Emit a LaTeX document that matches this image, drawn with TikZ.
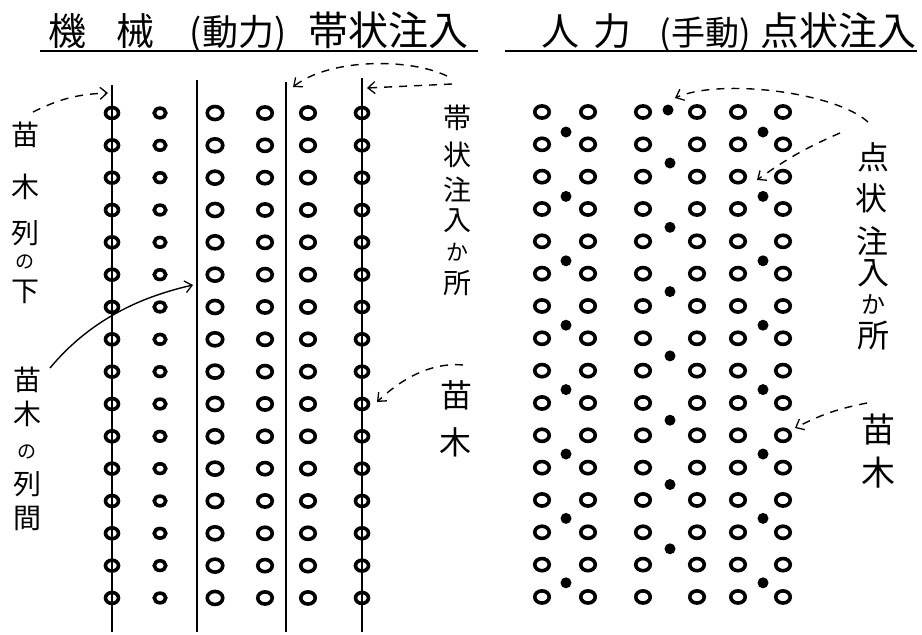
\documentclass[tikz,border=0pt]{standalone}
\usepackage{fontspec}
\newfontfamily\jp{Noto Sans CJK JP}
\usetikzlibrary{arrows.meta,shapes.geometric}
\begin{document}
\begin{tikzpicture}[x=1pt,y=-1pt,
  seedling/.style={ellipse,draw,line width=3.6pt,minimum width=#1,minimum height=0.84*#1,inner sep=0pt,outer sep=0pt},
  seedling/.default=15pt,
  dot/.style={circle,fill,minimum size=11pt,inner sep=0pt},
  lbl/.style={font=\jp\fontsize{#1}{#1}\selectfont,inner sep=0pt},
  lbl/.default=28,
  ttl/.style={font=\jp\fontsize{#1}{#1}\selectfont,inner sep=0pt,anchor=base},
  ttl/.default=38,
  uline/.style={line width=2.2pt},
  barb/.style={-{Straight Barb[length=7pt,width=12pt,line width=1.3pt]}},
  dasharrow/.style={barb,dash pattern=on 8pt off 7pt,line width=1.4pt},
  solidarrow/.style={barb,line width=1.4pt},
]
\useasboundingbox (0,0) rectangle (922,635);

% ---------- titles ----------
\node[ttl] (t1a) at (67,45) {機};
\node[ttl] (t1b) at (135,45) {械};
\node[ttl=36] (t1c) at (238,45) {(動力)};
\node[ttl=40] (t1d) at (388,45) {帯状注入};
\coordinate (u1s) at (40,51);
\coordinate (u1e) at (478,51);
\draw[uline] (u1s) -- (u1e);

\node[ttl] (t2a) at (560,45) {人};
\node[ttl] (t2b) at (612,45) {力};
\node[ttl=34] (t2c) at (705,45) {(手動)};
\node[ttl=39] (t2d) at (838,45) {点状注入};
\coordinate (u2s) at (505,51);
\coordinate (u2e) at (917,51);
\draw[uline] (u2s) -- (u2e);

% ---------- left panel: lines ----------
\foreach \x/\t/\w [count=\i] in {112/85/1.4pt,197/80/2.2pt,286/82/1.6pt,362/78/1.4pt}{
  \coordinate (LT\i) at (\x,\t);
  \coordinate (LB\i) at (\x,632);
  \draw[line width=\w] (LT\i) -- (LB\i);
}
% ---------- left panel: seedlings ----------
\foreach \x/\s [count=\c] in {112/13pt,160/11.5pt,215/15.5pt,265/14.5pt,308/14.5pt,362/13pt}{
  \foreach \r in {1,...,16}{
    \node[seedling=\s] (L\c-\r) at (\x,{113+(\r-1)*32.33}) {};
  }
}

% ---------- right panel: seedlings ----------
\foreach \x [count=\c] in {542,588,643,697,738,783}{
  \foreach \r in {1,...,16}{
    \node[seedling=14.5pt] (R\c-\r) at (\x,{112+(\r-1)*32.33}) {};
  }
}
% ---------- right panel: injection points ----------
\foreach \k in {0,...,7}{
  \node[dot] (DA\k) at (566,{132+\k*64.4}) {};
  \node[dot] (DC\k) at (763,{132+\k*64.4}) {};
}
\node[dot] (DBtop) at (668,110) {};
\foreach \k in {0,...,6}{
  \node[dot] (DB\k) at (670,{163+\k*64.3}) {};
}

% ---------- left labels ----------
\node[lbl] (a1) at (25,135) {苗};
\node[lbl] (a2) at (25,187) {木};
\node[lbl] (a3) at (25,233) {列};
\node[lbl=19] (a4) at (25,262) {の};
\node[lbl] (a5) at (25,292) {下};
\coordinate (a1s) at (33,112);
\coordinate (a1e) at (108,93);
\draw[dasharrow] (a1s) to[bend left=12] (a1e);

\node[lbl] (b1) at (27,380) {苗};
\node[lbl] (b2) at (27,414) {木};
\node[lbl=19] (b3) at (27,452) {の};
\node[lbl] (b4) at (27,484) {列};
\node[lbl] (b5) at (27,518) {間};
\coordinate (b1s) at (50,368);
\coordinate (b1e) at (193,285);
\draw[solidarrow] (b1s) .. controls (90,320) and (140,297) .. (b1e);

\node[lbl] (c1) at (457,118) {帯};
\node[lbl] (c2) at (457,155) {状};
\node[lbl] (c3) at (457,190) {注};
\node[lbl] (c4) at (457,221) {入};
\node[lbl=22] (c5) at (457,252) {か};
\node[lbl] (c6) at (457,283) {所};
\coordinate (c1s) at (452,84);
\coordinate (c1e) at (367,88);
\draw[dasharrow] (c1s) -- (c1e);
\coordinate (c2s) at (447,76);
\coordinate (c2e) at (293,87);
\draw[dasharrow] (c2s) .. controls (410,58) and (330,58) .. (c2e);

\node[lbl=32] (d1) at (456,395) {苗};
\node[lbl=32] (d2) at (455,442) {木};
\coordinate (d1s) at (463,365);
\coordinate (d1e) at (377,402);
\draw[dasharrow] (d1s) .. controls (430,362) and (400,380) .. (d1e);

% ---------- right labels ----------
\node[lbl=32] (e1) at (873,157) {点};
\node[lbl=32] (e2) at (871,198) {状};
\node[lbl=32] (e3) at (872,241) {注};
\node[lbl=32] (e4) at (873,273) {入};
\node[lbl=24] (e5) at (873,304) {か};
\node[lbl=32] (e6) at (873,336) {所};
\coordinate (e1s) at (868,122);
\coordinate (e1e) at (675,98);
\draw[dasharrow] (e1s) .. controls (835,92) and (720,78) .. (e1e);
\coordinate (e2s) at (840,133);
\coordinate (e2e) at (757,180);
\draw[dasharrow] (e2s) to[bend right=6] (e2e);

\node[lbl=34] (f1) at (878,430) {苗};
\node[lbl=34] (f2) at (878,473) {木};
\coordinate (f1s) at (867,403);
\coordinate (f1e) at (795,428);
\draw[dasharrow] (f1s) to[bend right=8] (f1e);
\end{tikzpicture}
\end{document}
